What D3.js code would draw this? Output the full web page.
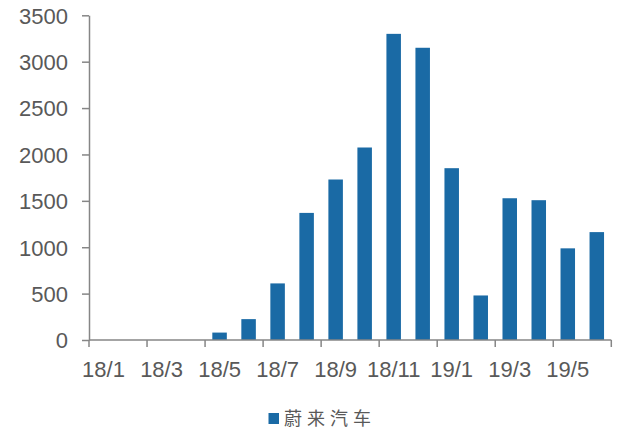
<!DOCTYPE html>
<html><head><meta charset="utf-8">
<script src="https://cdn.jsdelivr.net/npm/d3@7"></script>
<style>body{margin:0;background:#fff}svg{display:block}</style>
</head><body>
<svg id="c" width="620" height="429"></svg>
<script>
const categories = ["18/1","18/2","18/3","18/4","18/5","18/6","18/7","18/8","18/9","18/10","18/11","18/12","19/1","19/2","19/3","19/4","19/5","19/6"];
const values = [0,0,0,0,80,225,610,1370,1730,2075,3300,3150,1852,480,1528,1507,988,1163];
const yTicks = [0,500,1000,1500,2000,2500,3000,3500];
const seriesName = "蔚来汽车";

const svg = d3.select("#c");
const L = 89, R = 611.3, T = 15.3, B = 340;
const x = d3.scaleBand().domain(categories).range([L, R]).paddingInner(0.5).paddingOuter(0.25);
const xb = d3.scaleBand().domain(categories).range([L, R]);
const y = d3.scaleLinear().domain([0, 3500]).range([B, T]);
const axisColor = "#868686", textColor = "#595959", barColor = "#1A6AA5";

svg.append("g").selectAll("rect").data(values).join("rect")
  .attr("x", (d,i) => x(categories[i]))
  .attr("width", x.bandwidth())
  .attr("y", d => y(d))
  .attr("height", d => B - y(d))
  .attr("fill", barColor);

// y axis
const ya = svg.append("g").attr("transform", `translate(${L},0)`)
  .call(d3.axisLeft(y).tickValues(yTicks).tickFormat(d3.format("d")).tickSize(7).tickPadding(14).tickSizeOuter(0));
ya.select(".domain").attr("stroke", axisColor).attr("stroke-width", 1.5);
ya.selectAll(".tick line").attr("stroke", axisColor).attr("stroke-width", 1.5);
ya.selectAll(".tick text").attr("fill", textColor).style("font-family","'Liberation Sans', Arial, sans-serif").style("font-size","22px").attr("dy","0.36em");

// x axis: ticks at boundaries every 2 months, labels at odd months
const xg = svg.append("g").attr("transform", `translate(0,${B})`);
xg.append("line").attr("x1", L).attr("x2", R).attr("stroke", axisColor).attr("stroke-width", 1.5);
const bounds = categories.map((c,i) => i).filter(i => i % 2 === 0).map(i => xb(categories[i])).concat([R]);
xg.selectAll("line.t").data(bounds).join("line").attr("class","t")
  .attr("x1", d => d).attr("x2", d => d).attr("y1", 0).attr("y2", 7)
  .attr("stroke", axisColor).attr("stroke-width", 1.5);
xg.selectAll("text").data(categories.filter((c,i) => i % 2 === 0)).join("text")
  .attr("x", d => xb(d) + xb.bandwidth()/2)
  .attr("y", 36.5)
  .attr("text-anchor", "middle")
  .attr("fill", textColor)
  .style("font-family","'Liberation Sans', Arial, sans-serif").style("font-size","22px")
  .text(d => d);

// legend
const lg = svg.append("g");
lg.append("rect").attr("x", 268.5).attr("y", 413).attr("width", 10.5).attr("height", 11).attr("fill", barColor);
lg.append("text").attr("x", 284).attr("y", 425).attr("fill", textColor)
  .style("font-family","'Noto Sans CJK SC', sans-serif").style("font-size","18px").style("letter-spacing","5px")
  .text(seriesName);
</script>
</body></html>
